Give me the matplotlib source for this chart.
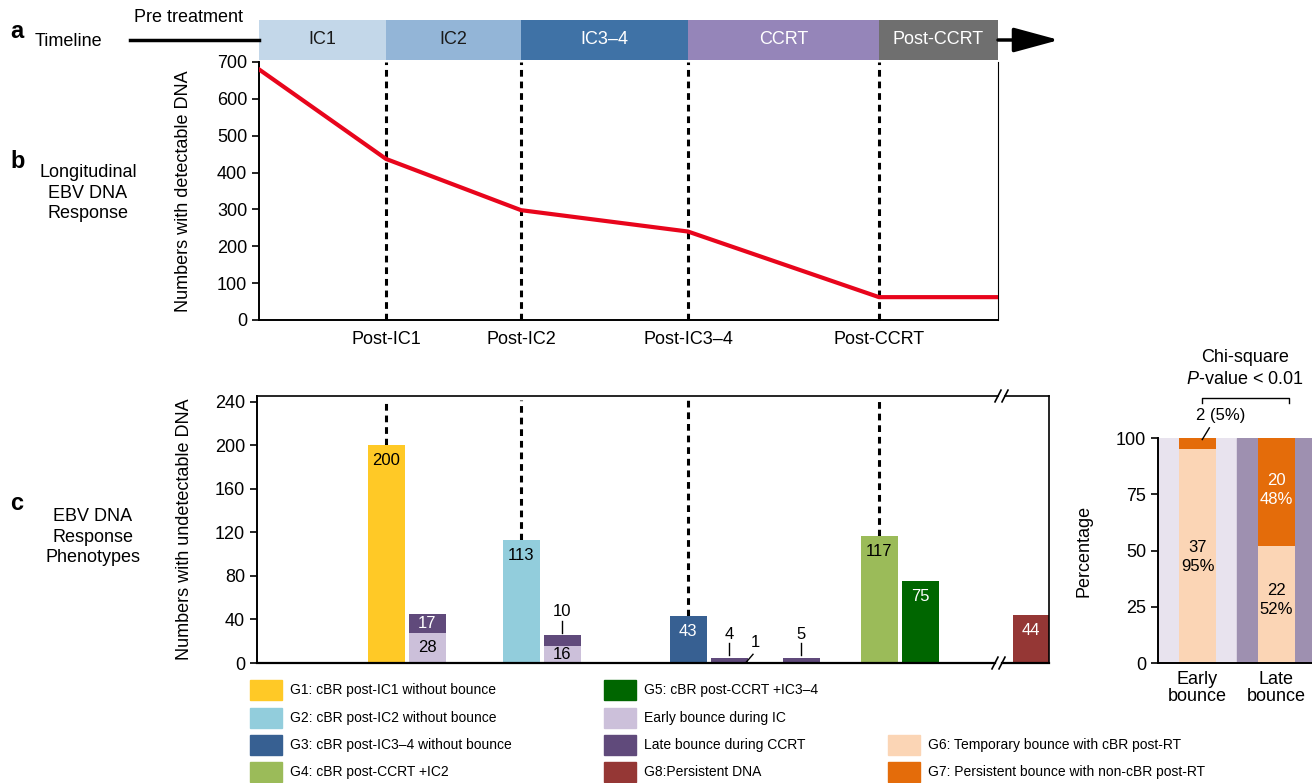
import matplotlib.pyplot as plt
from matplotlib.patches import Rectangle

plt.rcParams['font.family'] = ['Liberation Sans', 'DejaVu Sans']
plt.rcParams['mathtext.fontset'] = 'custom'
plt.rcParams['mathtext.it'] = 'Liberation Sans:italic'
plt.rcParams['mathtext.rm'] = 'Liberation Sans'
plt.rcParams['font.size'] = 13

W, H = 1312, 783

# ---- data -------------------------------------------------------------
phases = ["IC1", "IC2", "IC3\u20134", "CCRT", "Post-CCRT"]
phase_edges = [0, 1.27, 2.62, 4.29, 6.20, 7.39]
phase_colors = ["#c3d7e9", "#93b5d7", "#3f72a6", "#9585b9", "#6f6f6f"]
phase_text = ["#1a1a1a", "#1a1a1a", "white", "white", "white"]

timepoints = ["Post-IC1", "Post-IC2", "Post-IC3\u20134", "Post-CCRT"]
detect_x = [0, 1.27, 2.62, 4.29, 6.20, 7.39]
detect_n = [680, 437, 298, 240, 62, 62]

# panel c: cBR groups at each timepoint
group_x = [1.27, 2.62, 4.29, 6.20]
group_n = [200, 113, 43, 117]
group_colors = ["#ffc926", "#92cddc", "#376092", "#9bbb59"]
group_txt = ["black", "black", "white", "black"]

bounce_x = [1.68, 3.03, 4.70, 5.42]
early_n = [28, 16, 1, 0]
late_n = [17, 10, 4, 5]

g5_x, g5_n = 6.61, 75
g8_x, g8_n = 7.72, 44

# panel d
bounce_groups = ["Early\nbounce", "Late\nbounce"]
g6_n = [37, 22]
g7_n = [2, 20]
g6_pct = [95, 52]
g7_pct = [5, 48]

c_early = "#ccc0da"
c_late = "#604a7b"
c_g5 = "#006600"
c_g8 = "#953735"
c_g6 = "#fbd5b5"
c_g7 = "#e46c0a"

fig = plt.figure(figsize=(W / 100, H / 100), dpi=100)


def fx(px):
    return px / W


def fy(py):
    return 1 - py / H


# ---- panel a: timeline -------------------------------------------------
ax_t = fig.add_axes([fx(259), fy(60), fx(739), 40 / H])
ax_t.set_xlim(0, 7.39)
ax_t.set_ylim(0, 1)
ax_t.axis('off')
for i in range(len(phases)):
    ax_t.barh(0.5, phase_edges[i + 1] - phase_edges[i], left=phase_edges[i], height=1,
              color=phase_colors[i])
    ax_t.text((phase_edges[i] + phase_edges[i + 1]) / 2, 0.5, phases[i],
              ha='center', va='center', color=phase_text[i], fontsize=13)
ax_t.plot([-1.29, 0], [0.5, 0.5], color='black', lw=2.5, clip_on=False)
ax_t.annotate('', xy=(8.0, 0.5), xytext=(7.39, 0.5), annotation_clip=False,
              arrowprops=dict(arrowstyle='-|>,head_length=1.4,head_width=0.38',
                              mutation_scale=20, color='black', lw=2.5,
                              shrinkA=0, shrinkB=0))
ax_t.text(-0.70, 1.05, "Pre treatment", ha='center', va='center', fontsize=13)

# ---- panel b: detectable DNA ----------------------------------------------
ax_b = fig.add_axes([fx(259), fy(320), fx(739), 258 / H])
ax_b.set_xlim(0, 7.39)
ax_b.set_ylim(0, 700)
ax_b.plot(detect_x, detect_n, color='#e8051c', lw=3, zorder=3)
for x in phase_edges[1:5]:
    ax_b.plot([x, x], [0, 700], color='black', lw=2.2, ls=(0, (2.2, 1.6)), zorder=2)
ax_b.set_yticks(range(0, 701, 100))
ax_b.set_xticks(phase_edges[1:5])
ax_b.set_xticklabels(timepoints)
ax_b.tick_params(axis='x', length=0, pad=8, labelsize=13)
ax_b.tick_params(axis='y', length=5, width=1.2, labelsize=13)
ax_b.spines['top'].set_visible(False)
ax_b.spines['left'].set_linewidth(1.4)
ax_b.spines['bottom'].set_linewidth(1.4)
ax_b.spines['right'].set_linewidth(0.8)
ax_b.set_ylabel("Numbers with detectable DNA", fontsize=13)
ax_b.yaxis.set_label_coords((192 - 259) / 739, 0.5)

# ---- panel c: phenotypes --------------------------------------------------
ax_c = fig.add_axes([fx(257), fy(663), fx(792), 267 / H])
ax_c.set_xlim(-0.02, 7.90)
ax_c.set_ylim(0, 245.5)
bw = 0.37

ax_c.bar(group_x, group_n, width=bw, color=group_colors, zorder=2)
ax_c.bar(bounce_x, early_n, width=bw, color=c_early, zorder=2)
ax_c.bar(bounce_x, late_n, width=bw, bottom=early_n, color=c_late, zorder=2)
ax_c.bar(g5_x, g5_n, width=bw, color=c_g5, zorder=2)
ax_c.bar(g8_x, g8_n, width=bw, color=c_g8, zorder=2)

for x, n in zip(group_x, group_n):
    ax_c.plot([x, x], [n, 242], color='black', lw=2.2, ls=(0, (2.2, 1.6)), zorder=1)

top_labels = list(zip(group_x, group_n, group_txt)) + [(g5_x, g5_n, 'white'), (g8_x, g8_n, 'white')]
for x, n, c in top_labels:
    ax_c.annotate(str(n), xy=(x, n), xytext=(0, -11), textcoords='offset points',
                  ha='center', va='center', color=c, fontsize=12)

# stacked bounce bars labels
ax_c.text(bounce_x[0], early_n[0] / 2, str(early_n[0]), ha='center', va='center', fontsize=12)
ax_c.text(bounce_x[0], early_n[0] + late_n[0] / 2, str(late_n[0]), ha='center', va='center',
          fontsize=12, color='white')
ax_c.text(bounce_x[1], early_n[1] / 2, str(early_n[1]), ha='center', va='center', fontsize=12)
for i, lbl in [(1, late_n[1]), (2, late_n[2]), (3, late_n[3])]:
    tot = early_n[i] + late_n[i]
    ax_c.plot([bounce_x[i], bounce_x[i]], [tot + 2, tot + 13], color='black', lw=1)
    ax_c.text(bounce_x[i], tot + 21, str(lbl), ha='center', va='center', fontsize=12)
ax_c.plot([bounce_x[2] + 0.17, bounce_x[2] + 0.24], [0.5, 8], color='black', lw=1)
ax_c.text(bounce_x[2] + 0.26, 19, str(early_n[2]), ha='center', va='center', fontsize=12)

# broken top / bottom axis lines
ax_c.spines['top'].set_visible(False)
ax_c.spines['bottom'].set_visible(False)
ax_c.spines['left'].set_linewidth(1.4)
ax_c.spines['right'].set_linewidth(1.2)
tr = ax_c.get_xaxis_transform()
for yy, gap, lw in [(1, (7.39, 7.46), 1.2), (0, (7.36, 7.43), 1.6)]:
    ax_c.plot([-0.02, gap[0]], [yy, yy], color='black', lw=lw, transform=tr, clip_on=False)
    ax_c.plot([gap[1], 7.90], [yy, yy], color='black', lw=lw, transform=tr, clip_on=False)
    for gx in gap:
        ax_c.plot([gx - 0.03, gx + 0.03], [yy - 0.022, yy + 0.022], color='black', lw=1.2,
                  transform=tr, clip_on=False)

ax_c.set_xticks([])
ax_c.set_yticks(range(0, 241, 40))
ax_c.tick_params(axis='y', length=5, width=1.2, labelsize=13)
ax_c.set_ylabel("Numbers with undetectable DNA", fontsize=13)
ax_c.yaxis.set_label_coords((193 - 257) / 792, 0.5)

# ---- panel d: bounce outcome ---------------------------------------------
ax_d = fig.add_axes([fx(1158), fy(663), fx(158), 225 / H])
ax_d.set_xlim(-0.5, 1.5)
ax_d.set_ylim(0, 100)
ax_d.axvspan(-0.5, 0.5, color='#e8e3ee', zorder=0)
ax_d.axvspan(0.5, 1.5, color='#9e90b0', zorder=0)
xd = [0, 1]
ax_d.bar(xd, g6_pct, width=0.47, color=c_g6, zorder=2)
ax_d.bar(xd, g7_pct, width=0.47, bottom=g6_pct, color=c_g7, zorder=2)
ax_d.text(0, 47, f"{g6_n[0]}\n{g6_pct[0]}%", ha='center', va='center', fontsize=12,
          linespacing=1.3)
ax_d.text(1, 28, f"{g6_n[1]}\n{g6_pct[1]}%", ha='center', va='center', fontsize=12,
          linespacing=1.3)
ax_d.text(1, 77, f"{g7_n[1]}\n{g7_pct[1]}%", ha='center', va='center', fontsize=12,
          color='white', linespacing=1.3)
ax_d.plot([0.06, 0.15], [99.3, 104.5], color='black', lw=1, clip_on=False)
ax_d.text(0.29, 110, f"{g7_n[0]} ({g7_pct[0]}%)", ha='center', va='center', fontsize=12)
ax_d.plot([0.06, 0.06, 1.16, 1.16], [115.5, 118, 118, 115.5], color='black', lw=1,
          clip_on=False)
ax_d.text(0.60, 136, "Chi-square", ha='center', va='center', fontsize=13)
ax_d.text(0.60, 125.8, "$P$-value < 0.01", ha='center', va='center', fontsize=13)
ax_d.set_xticks(xd)
ax_d.set_xticklabels(bounce_groups, linespacing=1.0)
ax_d.set_yticks([0, 25, 50, 75, 100])
ax_d.tick_params(axis='x', length=0, pad=6, labelsize=13)
ax_d.tick_params(axis='y', length=5, width=1.2, labelsize=13)
ax_d.spines['top'].set_visible(False)
ax_d.spines['right'].set_visible(False)
ax_d.spines['left'].set_linewidth(1.4)
ax_d.spines['bottom'].set_linewidth(1.4)
ax_d.set_ylabel("Percentage", fontsize=13)
ax_d.yaxis.set_label_coords((1093 - 1158) / 158, 0.5)

# ---- side labels --------------------------------------------------------
fig.text(fx(10), fy(31), "a", fontsize=17, fontweight='bold', va='center')
fig.text(fx(35), fy(41), "Timeline", fontsize=13, va='center')
fig.text(fx(10), fy(162), "b", fontsize=17, fontweight='bold', va='center')
fig.text(fx(88), fy(193), "Longitudinal\nEBV DNA\nResponse", fontsize=13, ha='center',
         va='center', linespacing=1.25)
fig.text(fx(10), fy(503), "c", fontsize=17, fontweight='bold', va='center')
fig.text(fx(93), fy(537), "EBV DNA\nResponse\nPhenotypes", fontsize=13, ha='center',
         va='center', linespacing=1.25)

# ---- legend -------------------------------------------------------------
legend_labels = [
    "G1: cBR post-IC1 without bounce", "G2: cBR post-IC2 without bounce",
    "G3: cBR post-IC3\u20134 without bounce", "G4: cBR post-CCRT +IC2",
    "G5: cBR post-CCRT +IC3\u20134", "Early bounce during IC",
    "Late bounce during CCRT", "G8:Persistent DNA",
    "G6: Temporary bounce with cBR post-RT", "G7: Persistent bounce with non-cBR post-RT",
]
legend_colors = group_colors + [c_g5, c_early, c_late, c_g8, c_g6, c_g7]
legend_cols = [250] * 4 + [604] * 4 + [888] * 2
legend_rows = [690, 718, 745, 772] * 2 + [745, 772]
for lbl, col, lx, ly in zip(legend_labels, legend_colors, legend_cols, legend_rows):
    fig.add_artist(Rectangle((fx(lx), fy(ly + 10)), 32 / W, 20 / H, color=col,
                             transform=fig.transFigure))
    fig.text(fx(lx + 40), fy(ly), lbl, fontsize=10, va='center')

fig.savefig("out.png", dpi=100)
